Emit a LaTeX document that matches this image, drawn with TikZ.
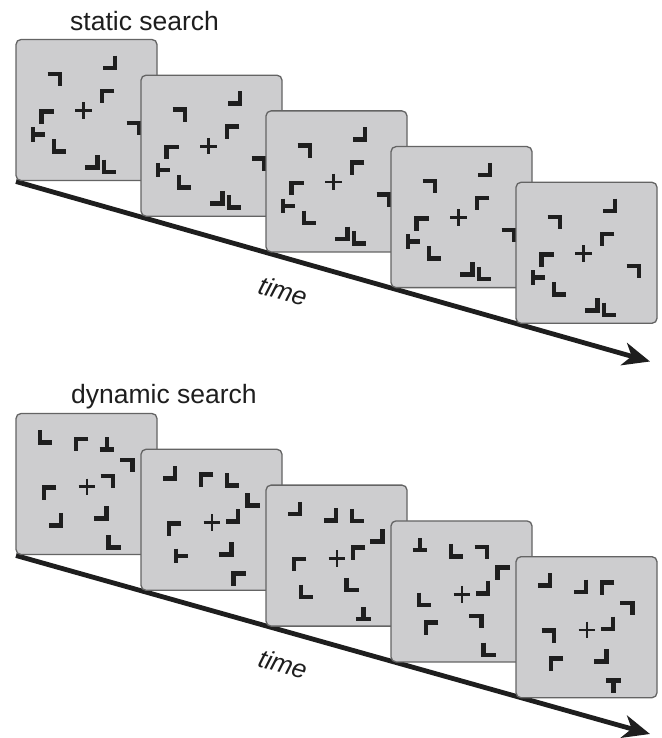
\documentclass[tikz,border=0pt]{standalone}
\usepackage{fontspec}
\setmainfont{Liberation Sans}
\usetikzlibrary{arrows.meta,backgrounds}

\definecolor{panelfill}{RGB}{205,205,207}
\definecolor{panelline}{RGB}{100,100,100}
\definecolor{ink}{RGB}{30,30,30}

\tikzset{
  x=1pt, y=-1pt,
  panel/.style={draw=panelline, line width=1.3pt, fill=panelfill, rounded corners=5pt,
    minimum width=141pt, minimum height=141pt, inner sep=0pt, outer sep=0pt, anchor=north west},
  bar/.style={line width=4.6pt, draw=ink, line cap=butt, line join=miter},
  fixmark/.style={line width=2.7pt, draw=ink, line cap=butt},
  timeaxis/.style={line width=4.8pt, draw=ink, line cap=butt,
    -{Stealth[length=27pt,width=23pt,inset=8pt]}},
  heading/.style={font=\fontsize{26.5}{30}\selectfont, text=ink, anchor=base west, inner sep=0pt},
  timelabel/.style={font=\fontsize{26}{30}\selectfont\itshape, text=ink, rotate=-16, inner sep=0pt},
  % corner and T elements, 14.6pt across
  pics/cTL/.style={code={\draw[bar] (7.3,-5) -- (-5,-5) -- (-5,7.3);}},
  pics/cTR/.style={code={\draw[bar] (-7.3,-5) -- (5,-5) -- (5,7.3);}},
  pics/cBL/.style={code={\draw[bar] (-5,-7.3) -- (-5,5) -- (7.3,5);}},
  pics/cBR/.style={code={\draw[bar] (5,-7.3) -- (5,5) -- (-7.3,5);}},
  pics/tE/.style={code={\draw[bar] (-5,-7.3) -- (-5,7.3) (-5,0) -- (7.3,0);}},
  pics/tU/.style={code={\draw[bar] (-7.3,5) -- (7.3,5) (0,5) -- (0,-7.3);}},
  pics/tD/.style={code={\draw[bar] (-7.3,-5) -- (7.3,-5) (0,-5) -- (0,7.3);}},
  pics/fixcross/.style={code={\draw[fixmark] (-8.3,0) -- (8.3,0) (0,-8.3) -- (0,8.3);}},
}

% item layout of the static display
\newcommand\staticitems{%
  \pic at (94,23.5) {cBR};
  \pic at (39,39.5) {cTR};
  \pic at (91,56.5) {cTL};
  \pic at (67.5,71) {fixcross};
  \pic at (30.5,77) {cTL};
  \pic at (118,88.5) {cTR};
  \pic at (22,95) {tE};
  \pic at (43,107) {cBL};
  \pic at (76.5,123) {cBR};
  \pic at (93,127.5) {cBL};
}

% item layout of the dynamic displays: same places, orientations given
\newcommand\dynitems[9]{%
  \pic at (29,24) {#1};
  \pic at (65,30.3) {#2};
  \pic at (91,31) {#3};
  \pic at (111.7,51.3) {#4};
  \pic at (71,73.3) {fixcross};
  \pic at (92,67.3) {#5};
  \pic at (33,79) {#6};
  \pic at (40,106.7) {#7};
  \pic at (85.3,100) {#8};
  \pic at (97.2,129) {#9};
}

\begin{document}
\begin{tikzpicture}
\useasboundingbox (0,0) rectangle (661,738);
\begin{scope}[on background layer]
  \fill[white] (0,0) rectangle (661,738);
\end{scope}

% ---------------- static search ----------------
\node[heading] (stitle) at (70,31) {static search};

\foreach \k in {1,...,5} {
  \node[panel] (s\k) at ({16+125*(\k-1)}, {39.5+35.7*(\k-1)}) {};
  \begin{scope}[shift={(s\k.north west)}]
    \staticitems
  \end{scope}
}

\coordinate (sEnd) at (650,361.5);
\begin{scope}[on background layer]
  \draw[timeaxis] ([yshift=-1pt]s1.south west) -- (sEnd);
\end{scope}
\node[timelabel] (stime) at (283,291) {time};

% ---------------- dynamic search ----------------
\node[heading] (dtitle) at (71,403.5) {dynamic search};

\node[panel] (d1) at (16,413.5) {};
\begin{scope}[shift={(d1.north west)}]
  \dynitems{cBL}{cTL}{tU}{cTR}{cTR}{cTL}{cBR}{cBR}{cBL}
\end{scope}
\node[panel] (d2) at (141,449.3) {};
\begin{scope}[shift={(d2.north west)}]
  \dynitems{cBR}{cTL}{cBL}{cBL}{cBR}{cTL}{tE}{cBR}{cTL}
\end{scope}
\node[panel] (d3) at (266,485.1) {};
\begin{scope}[shift={(d3.north west)}]
  \dynitems{cBR}{cBR}{cBL}{cBR}{cTL}{cTL}{cBL}{cBL}{tU}
\end{scope}
\node[panel] (d4) at (391,520.9) {};
\begin{scope}[shift={(d4.north west)}]
  \dynitems{tU}{cBL}{cTR}{cTL}{cBR}{cBL}{cTL}{cTR}{cBL}
\end{scope}
\node[panel] (d5) at (516,556.7) {};
\begin{scope}[shift={(d5.north west)}]
  \dynitems{cBR}{cBR}{cTL}{cTR}{cBR}{cTR}{cTL}{cBR}{tD}
\end{scope}

\coordinate (dEnd) at (650,734);
\begin{scope}[on background layer]
  \draw[timeaxis] ([yshift=-1pt]d1.south west) -- (dEnd);
\end{scope}
\node[timelabel] (dtime) at (283,664) {time};
\end{tikzpicture}
\end{document}
